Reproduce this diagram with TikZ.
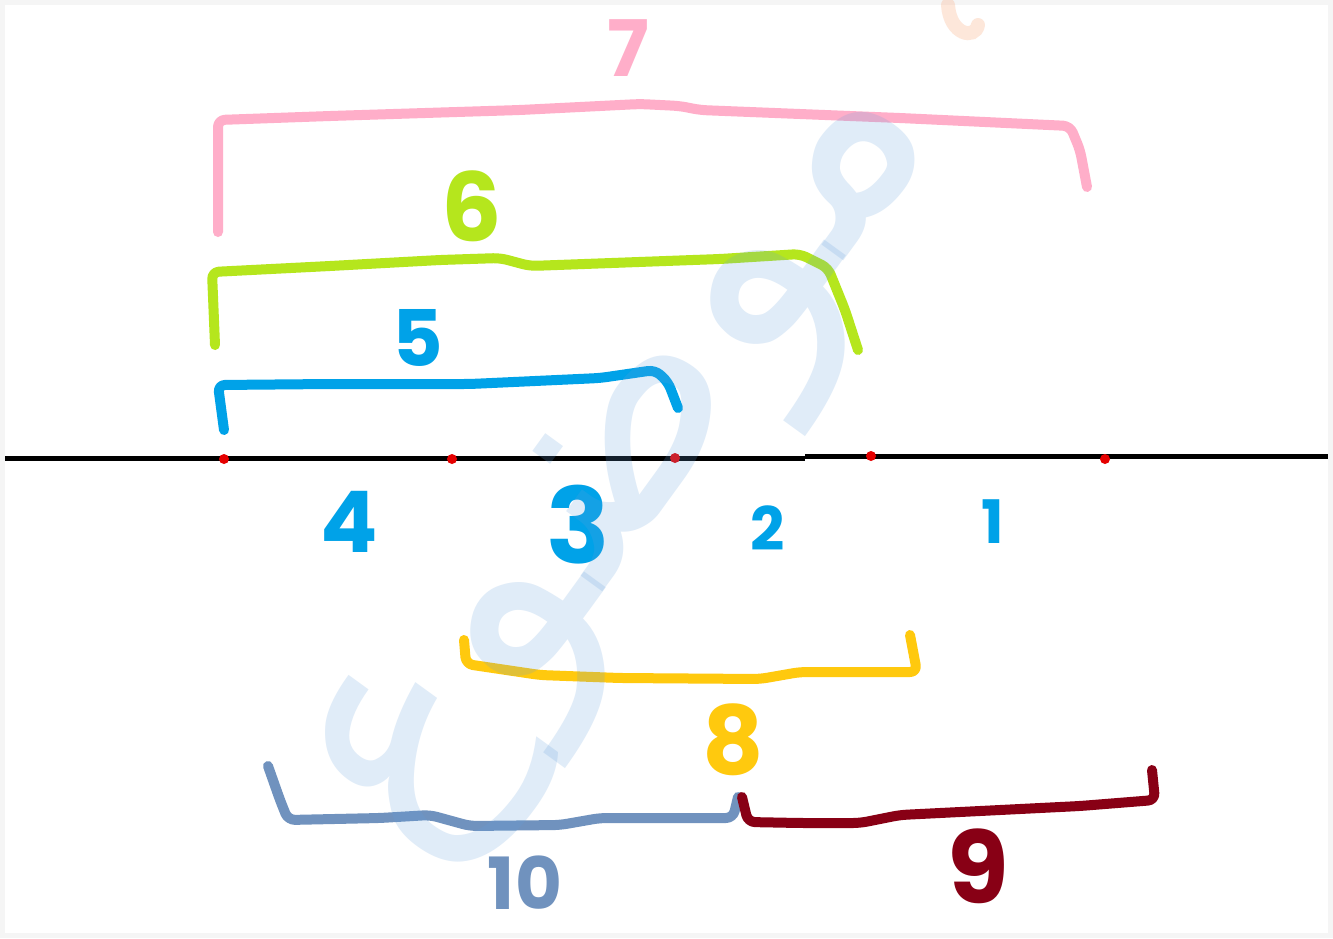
\documentclass[tikz,border=0pt]{standalone}
\usepackage{fontspec}
\newfontfamily\hand{Poppins}
\newfontfamily\arabicfont[Script=Arabic]{DejaVu Sans}
\TeXXeTstate=1
\definecolor{pinkc}{HTML}{FFAEC9}
\definecolor{greenc}{HTML}{B5E61D}
\definecolor{bluec}{HTML}{00A2E8}
\definecolor{yellowc}{HTML}{FFC90E}
\definecolor{slatec}{HTML}{7092BE}
\definecolor{redc}{HTML}{880015}
\definecolor{wmark}{RGB}{100,160,220}
\definecolor{peach}{RGB}{250,160,110}
\begin{document}
\begin{tikzpicture}[x=1pt,y=-1pt,
  stroke/.style={line width=10pt, line cap=round, line join=round, rounded corners=7pt},
  lbl/.style={font=\hand\bfseries\fontsize{#1}{#1}\selectfont, inner sep=0pt, anchor=center},
  dot/.style={circle, fill=red!90!black, inner sep=0pt, minimum size=10pt}]
\useasboundingbox (0,0) rectangle (1333,938);
\fill[black!4] (0,0) rectangle (1333,938);
\fill[white] (5,5) rectangle (1328,933);
% number line
\draw[line width=5pt] (5,458) -- (805,458);
\draw[line width=5pt] (805,456) -- (1328,456);
\node[dot] (p4) at (224,459) {};
\node[dot] (p3) at (452,459) {};
\node[dot] (p2) at (675,458) {};
\node[dot] (p1) at (871,456) {};
\node[dot] (p0) at (1105,459) {};
% pink bracket 7
\draw[stroke, pinkc] (218,232) -- (218,120) -- (330,116) -- (520,110) -- (640,104) -- (680,106) -- (700,110) -- (900,118) -- (1070,126) -- (1080,150) -- (1087,187);
\node[lbl=78, text=pinkc] (l7) at (628,48) {7};
% green bracket 6
\draw[stroke, greenc] (215,345) -- (212,272) -- (330,266) -- (440,260) -- (500,258) -- (530,266) -- (720,259) -- (800,254) -- (828,268) -- (845,310) -- (858,350);
\node[lbl=95, text=greenc] (l6) at (472,206) {6};
% blue bracket 5
\draw[stroke, bluec] (224,430) -- (218,385) -- (330,384) -- (470,384) -- (600,378) -- (655,370) -- (668,382) -- (678,408);
\node[lbl=78, text=bluec] (l5) at (418,338) {5};
% segment labels
\node[lbl=85, text=bluec] (l4) at (349,522) {4};
\node[lbl=105, text=bluec] (l3) at (578,525) {3};
\node[lbl=60, text=bluec] (l2) at (768,528) {2};
\node[lbl=60, text=bluec] (l1) at (993,522) {1};
% yellow bracket 8
\draw[stroke, yellowc] (464,640) -- (466,664) -- (540,675) -- (620,678) -- (760,679) -- (800,672) -- (917,672) -- (910,635);
\node[lbl=95, text=yellowc] (l8) at (733,740) {8};
% slate bracket 10
\draw[stroke, slatec] (268,766) -- (280,800) -- (288,820) -- (380,818) -- (430,815) -- (470,826) -- (560,825) -- (600,818) -- (733,818) -- (738,797);
\node[lbl=72, text=slatec] (l10) at (525,883) {10};
% dark red bracket 9
\draw[stroke, redc] (742,797) -- (748,822) -- (800,823) -- (860,823) -- (900,815) -- (1000,810) -- (1080,806) -- (1155,800) -- (1152,770);
\node[lbl=100, text=redc] (l9) at (978,866) {9};
% watermark
\node[text=wmark, text opacity=0.2, rotate=54, inner sep=0pt, font=\arabicfont\fontsize{300}{300}\selectfont] (wm) at (640,470) {\beginR موضوع\endR};
\draw[peach, opacity=0.25, line width=14pt, line cap=round] (948,5) .. controls (950,35) and (975,40) .. (978,25);
\end{tikzpicture}
\end{document}
